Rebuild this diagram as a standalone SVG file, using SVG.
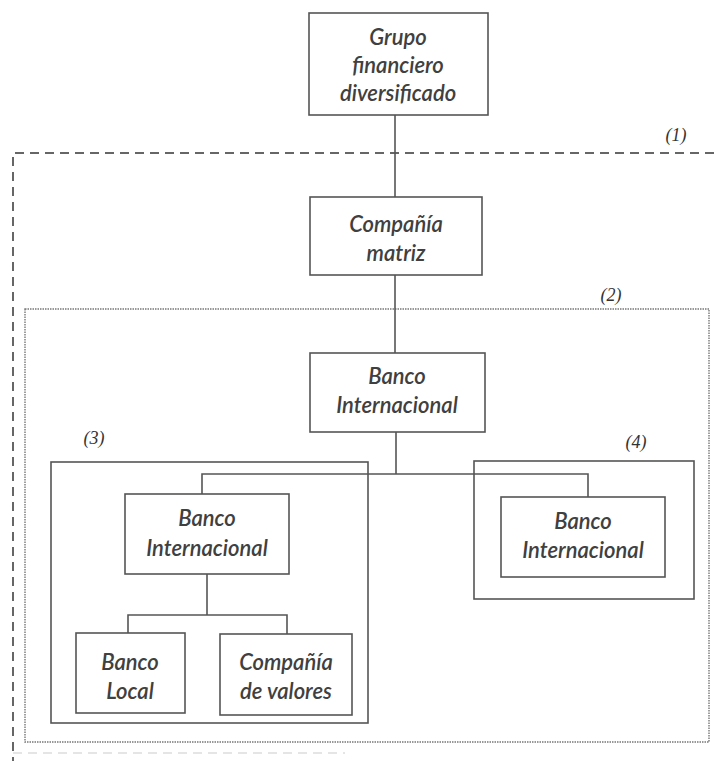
<svg xmlns="http://www.w3.org/2000/svg" width="714" height="761" viewBox="0 0 714 761">
<style>
.box{fill:#fff;stroke:#555;stroke-width:1.6}
.grp{fill:none;stroke:#555;stroke-width:1.6}
.t{font-family:Lato,"Open Sans","Liberation Sans",sans-serif;font-style:italic;font-weight:600;font-size:22px;fill:#404040;text-anchor:middle}
.lbl{font-family:"Liberation Serif",serif;font-style:italic;font-size:18px;fill:#333;text-anchor:middle}
.c{fill:none;stroke:#555;stroke-width:1.6}
</style>
<rect width="714" height="761" fill="#fff"/>
<g id="zone1">
<path d="M714,153 H13 V761" fill="none" stroke="#666" stroke-width="2" stroke-dasharray="9,6"/>
<path d="M13,753 H345" fill="none" stroke="#ccc" stroke-width="1.2" stroke-dasharray="9,6"/>
<text class="lbl" x="676" y="141">(1)</text>
</g>
<g id="zone2">
<rect x="25" y="309" width="684" height="433" fill="none" stroke="#777" stroke-width="1.4" stroke-dasharray="1.5,1"/>
<text class="lbl" x="611" y="301">(2)</text>
</g>
<g id="zone3">
<rect class="grp" x="51" y="462" width="317" height="261"/>
<text class="lbl" x="94" y="444">(3)</text>
</g>
<g id="zone4">
<rect class="grp" x="474" y="461" width="220" height="138"/>
<text class="lbl" x="636" y="448">(4)</text>
</g>
<g id="connectors">
<path class="c" d="M395,115 V197"/>
<path class="c" d="M395,275 V353"/>
<path class="c" d="M396,432 V474"/>
<path class="c" d="M202,494 V474 H588 V497"/>
<path class="c" d="M207,574 V615"/>
<path class="c" d="M128,633 V615 H287 V634"/>
</g>
<g id="grupo">
<rect class="box" x="309" y="13" width="179" height="102"/>
<text class="t" x="398" y="45">Grupo</text>
<text class="t" x="398" y="73">financiero</text>
<text class="t" x="398" y="101">diversificado</text>
</g>
<g id="matriz">
<rect class="box" x="310" y="197" width="172" height="78"/>
<text class="t" x="396" y="232">Compañía</text>
<text class="t" x="396" y="261">matriz</text>
</g>
<g id="bancoCentral">
<rect class="box" x="310" y="353" width="175" height="79"/>
<text class="t" x="397" y="384">Banco</text>
<text class="t" x="397" y="413">Internacional</text>
</g>
<g id="bancoIzq">
<rect class="box" x="125" y="494" width="164" height="80"/>
<text class="t" x="207" y="526">Banco</text>
<text class="t" x="207" y="556">Internacional</text>
</g>
<g id="bancoDer">
<rect class="box" x="501" y="497" width="164" height="80"/>
<text class="t" x="583" y="529">Banco</text>
<text class="t" x="583" y="558">Internacional</text>
</g>
<g id="bancoLocal">
<rect class="box" x="76" y="633" width="109" height="80"/>
<text class="t" x="130" y="670">Banco</text>
<text class="t" x="130" y="699">Local</text>
</g>
<g id="valores">
<rect class="box" x="220" y="634" width="132" height="81"/>
<text class="t" x="286" y="670">Compañía</text>
<text class="t" x="286" y="699">de valores</text>
</g>
</svg>
